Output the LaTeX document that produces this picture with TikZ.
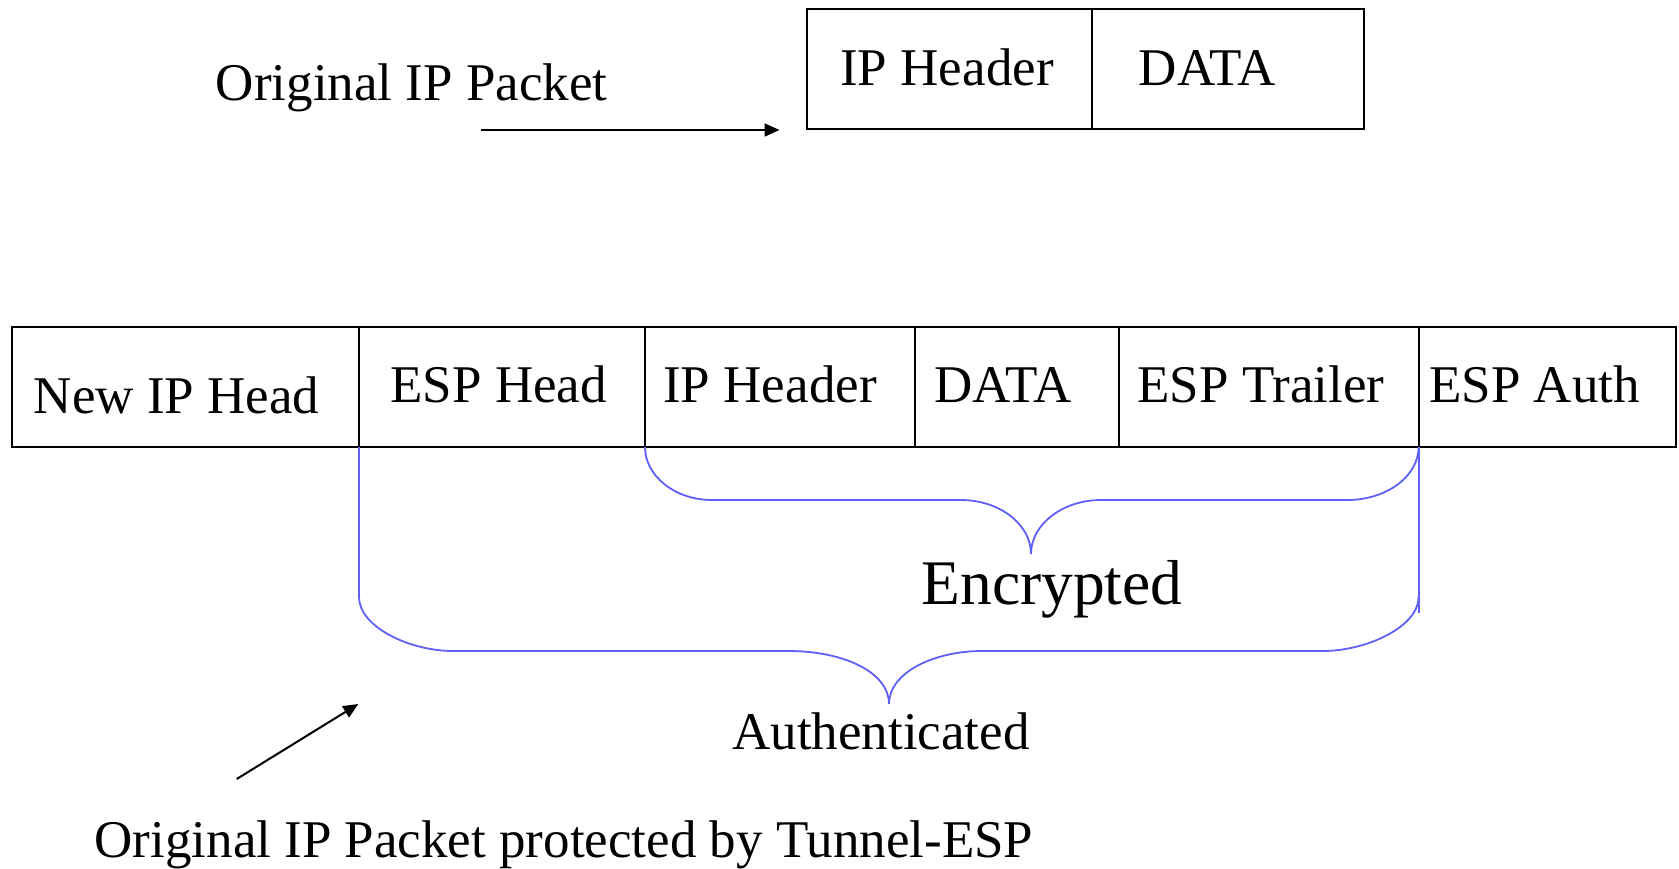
\documentclass[tikz,border=0pt]{standalone}
\usepackage{fontspec}
\setmainfont{Liberation Serif}
\usetikzlibrary{arrows.meta}
\definecolor{bracecol}{RGB}{95,95,250}
\begin{document}
\begin{tikzpicture}[x=1pt,y=-1pt,
  cell/.style={draw=black,line width=2pt,rectangle,inner sep=0pt,outer sep=0pt,minimum height=120.5pt},
  lbl/.style={anchor=base,inner sep=0pt,font=\fontsize{53}{60}\selectfont},
  biglbl/.style={anchor=base,inner sep=0pt,font=\fontsize{63.5}{72}\selectfont},
  brace/.style={draw=bracecol,line width=1.8pt},
  pointer/.style={draw=black,line width=2pt,-{Triangle[length=15pt,width=13pt]}}]
\useasboundingbox (0,0) rectangle (1679,868);
% top packet
\node[cell,minimum width=285pt,minimum height=120pt] (tiph) at (949.5,69.3) {};
\node[cell,minimum width=272pt,minimum height=120pt] (tdata) at (1228,69.3) {};
\node[lbl] (tiphl) at (947,85) {IP Header};
\node[lbl] (tdatal) at (1207.5,85) {DATA};
\node[lbl] (orig) at (411.7,100) {Original IP Packet};
\coordinate (a1s) at (480.7,130);
\coordinate (a1e) at (779.5,130);
\draw[pointer] (a1s) -- (a1e);
% bottom packet
\node[cell,minimum width=347pt] (newip) at (185.5,386.75) {};
\node[cell,minimum width=286pt] (esph) at (502,386.75) {};
\node[cell,minimum width=270pt] (iph) at (780,386.75) {};
\node[cell,minimum width=204pt] (data) at (1017,386.75) {};
\node[cell,minimum width=299.6pt] (trailer) at (1268.8,386.75) {};
\node[cell,minimum width=257.4pt] (auth) at (1547.3,386.75) {};
\node[lbl] (newipl) at (176.5,413) {New IP Head};
\node[lbl] (esphl) at (498.7,402) {ESP Head};
\node[lbl] (iphl) at (770,402) {IP Header};
\node[lbl] (datal) at (1003,402) {DATA};
\node[lbl] (trailerl) at (1261,402) {ESP Trailer};
\node[lbl] (authl) at (1534.5,402) {ESP Auth};
% encrypted brace
\draw[brace] (iph.south west) .. controls (645,476) and (675,500) .. (712,500)
  -- (961,500) .. controls (999,500) and (1031,524) .. (1031,554)
  .. controls (1031,524) and (1063,500) .. (1101,500)
  -- (1347,500) .. controls (1387,500) and (1418.6,476) .. (trailer.south east);
\node[biglbl] (enc) at (1052,604) {Encrypted};
% authenticated brace
\draw[brace] (esph.south west) -- (359,597) .. controls (359,627) and (410,651) .. (453,651)
  -- (789,651) .. controls (843,651) and (889,672) .. (889,704)
  .. controls (889,672) and (935,651) .. (982,651)
  -- (1323,651) .. controls (1366,651) and (1418.6,627) .. (1418.6,597);
\coordinate (rend) at (1418.6,613);
\draw[brace] (trailer.south east) -- (rend);
\node[lbl] (authd) at (881,749) {Authenticated};
% bottom caption and arrow
\node[lbl] (caption) at (564,857) {Original IP Packet protected by Tunnel-ESP};
\coordinate (a2s) at (236.7,779);
\coordinate (a2e) at (358.3,704);
\draw[pointer] (a2s) -- (a2e);
\end{tikzpicture}
\end{document}
